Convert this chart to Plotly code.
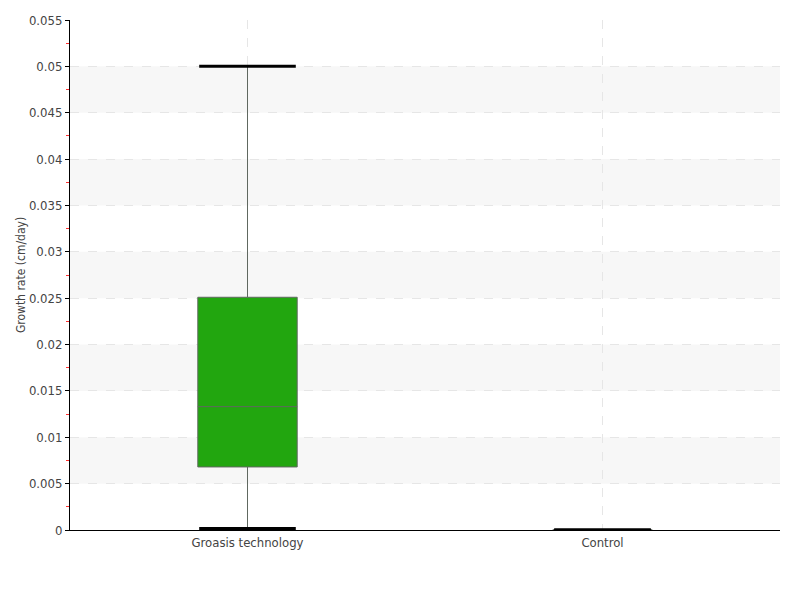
import plotly.graph_objects as go

categories = ["Groasis technology", "Control"]
lower = [0.00015, 0.0]
q1 = [0.0068, 0.0]
median = [0.0133, 0.0]
q3 = [0.0251, 0.0]
upper = [0.05, 0.0]
y_ticks = [0, 0.005, 0.01, 0.015, 0.02, 0.025, 0.03, 0.035, 0.04, 0.045, 0.05, 0.055]

FONT = "Liberation Sans Narrow, DejaVu Sans Condensed, sans-serif"

fig = go.Figure()
fig.add_trace(go.Box(
    x=categories, q1=q1, median=median, q3=q3,
    lowerfence=lower, upperfence=upper,
    fillcolor="#22a60f", line=dict(color="#606860", width=1),
    width=0.28, whiskerwidth=0, showlegend=False, boxpoints=False,
))
# whisker caps
fig.add_trace(go.Scatter(
    x=categories + categories, y=upper + lower, mode="markers",
    marker=dict(symbol="line-ew", size=69, line=dict(color="black", width=3)),
    showlegend=False, hoverinfo="skip",
))

# alternating bands
for i in range(1, len(y_ticks) - 1, 2):
    fig.add_shape(type="rect", xref="paper", yref="y", x0=0, x1=1,
                  y0=y_ticks[i], y1=y_ticks[i + 1], fillcolor="#f7f7f7",
                  line_width=0, layer="below")

fig.update_layout(
    width=800, height=600, plot_bgcolor="white", paper_bgcolor="white",
    margin=dict(l=62, r=28, t=12, b=78),
    font=dict(family=FONT, color="#444", size=13),
)
fig.update_xaxes(
    type="category", range=[-0.5, 1.5], automargin=False,
    showline=True, linecolor="black", linewidth=1,
    showgrid=True, gridcolor="#e6e6e6", griddash="dash",
    ticks="", tickfont=dict(size=13, color="#444"),
)
fig.update_yaxes(
    range=[0, 0.055], tickvals=y_ticks, ticktext=[f"{v:g}" for v in y_ticks],
    automargin=False,
    showline=True, linecolor="black", linewidth=1,
    showgrid=True, gridcolor="#e6e6e6", griddash="dash", zeroline=False,
    ticks="outside", ticklen=4, tickcolor="black",
    minor=dict(ticks="outside", ticklen=3, tickcolor="#ff3030", dtick=0.0025, tick0=0.0025, showgrid=False),
    title=dict(text="Growth rate (cm/day)", font=dict(size=12, color="#444"), standoff=0),
    tickfont=dict(size=13, color="#444"),
)
fig.write_html("out.html")
